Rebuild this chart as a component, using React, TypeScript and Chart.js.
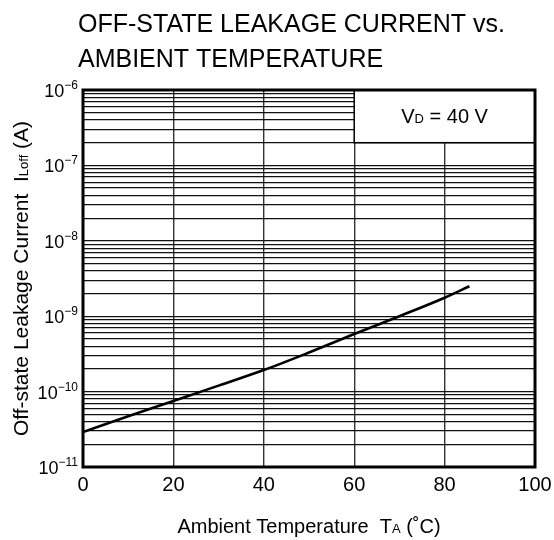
import { useEffect, useRef } from "react";
import { Chart, registerables } from "chart.js";

Chart.register(...registerables);

// ---- data ----
const temperatureC = [0, 10, 20, 30, 40, 50, 60, 70, 80, 85.5];
const leakageA = [2.9e-11, 4.7e-11, 7.5e-11, 1.2e-10, 1.93e-10, 3.3e-10, 5.8e-10, 1.0e-9, 1.76e-9, 2.5e-9];
const xTickValues = [0, 20, 40, 60, 80, 100];
const decadeExponents = [-11, -10, -9, -8, -7, -6];
const minorMultipliers = [1, 2, 3, 4, 5, 6, 7, 8, 9];
const titleLines = ["OFF-STATE LEAKAGE CURRENT vs.", "AMBIENT TEMPERATURE"];
const noteText = { main: "V", sub: "D", rest: " = 40 V" };
const xTitle = { main: "Ambient Temperature  T", sub: "A", rest: " (˚C)" };
const yTitle = { main: "Off-state Leakage Current  I", sub: "Loff", rest: " (A)" };

const FONT = '"Liberation Sans", Arial, Helvetica, sans-serif';

type Part = { text: string; size: number };

function drawRich(ctx: CanvasRenderingContext2D, parts: Part[], x: number, y: number) {
  let total = 0;
  for (const p of parts) {
    ctx.font = `${p.size}px ${FONT}`;
    total += ctx.measureText(p.text).width;
  }
  let cx = x - total / 2;
  ctx.textAlign = "left";
  ctx.textBaseline = "alphabetic";
  for (const p of parts) {
    ctx.font = `${p.size}px ${FONT}`;
    ctx.fillText(p.text, cx, y);
    cx += ctx.measureText(p.text).width;
  }
}

const overlayPlugin = {
  id: "overlay",
  beforeDatasetsDraw(chart: any) {
    const { ctx, chartArea, scales } = chart;
    const x = scales.x;
    const y = scales.y;
    const left = x.getPixelForValue(60);
    const right = chartArea.right;
    const top = chartArea.top;
    const bottom = y.getPixelForValue(2e-7);
    ctx.save();
    ctx.fillStyle = "#fff";
    ctx.fillRect(left, top, right - left, bottom - top);
    ctx.strokeStyle = "#000";
    ctx.lineWidth = 1.5;
    ctx.strokeRect(left, top, right - left, bottom - top);
    ctx.fillStyle = "#000";
    drawRich(
      ctx,
      [
        { text: noteText.main, size: 20 },
        { text: noteText.sub, size: 13 },
        { text: noteText.rest, size: 20 },
      ],
      (left + right) / 2,
      (top + bottom) / 2 + 7
    );
    ctx.restore();
  },
  afterDatasetsDraw(chart: any) {
    const { ctx, chartArea } = chart;
    ctx.save();
    ctx.strokeStyle = "#000";
    ctx.lineWidth = 3;
    ctx.strokeRect(chartArea.left, chartArea.top, chartArea.right - chartArea.left, chartArea.bottom - chartArea.top);
    ctx.restore();
  },
  afterDraw(chart: any) {
    const { ctx, chartArea, scales } = chart;
    ctx.save();
    ctx.fillStyle = "#000";
    ctx.font = `25px ${FONT}`;
    ctx.textAlign = "left";
    ctx.textBaseline = "alphabetic";
    ctx.fillText(titleLines[0], 78, 32);
    ctx.fillText(titleLines[1], 78, 67);

    // y tick labels: 10 with superscript exponent
    const right = chartArea.left - 5;
    for (const e of decadeExponents) {
      const py = scales.y.getPixelForValue(Math.pow(10, e));
      const exp = "\u2212" + String(Math.abs(e));
      ctx.font = `12px ${FONT}`;
      const ew = ctx.measureText(exp).width;
      ctx.textAlign = "left";
      ctx.fillText(exp, right - ew, py - 1);
      ctx.font = `18px ${FONT}`;
      const bw = ctx.measureText("10").width;
      ctx.fillText("10", right - ew - bw, py + 7);
    }

    const cx = (chartArea.left + chartArea.right) / 2;
    drawRich(
      ctx,
      [
        { text: xTitle.main, size: 20 },
        { text: xTitle.sub, size: 13 },
        { text: xTitle.rest, size: 20 },
      ],
      cx,
      533
    );

    const cy = (chartArea.top + chartArea.bottom) / 2;
    ctx.translate(28, cy);
    ctx.rotate(-Math.PI / 2);
    drawRich(
      ctx,
      [
        { text: yTitle.main, size: 21 },
        { text: yTitle.sub, size: 13 },
        { text: yTitle.rest, size: 21 },
      ],
      0,
      0
    );
    ctx.restore();
  },
};

export default function App() {
  const ref = useRef<HTMLCanvasElement | null>(null);

  useEffect(() => {
    if (!ref.current) return;
    const yTickValues: number[] = [];
    for (let i = 0; i < decadeExponents.length - 1; i++) {
      for (const m of minorMultipliers) yTickValues.push(m * Math.pow(10, decadeExponents[i]));
    }
    yTickValues.push(Math.pow(10, decadeExponents[decadeExponents.length - 1]));

    const chart = new Chart(ref.current, {
      type: "line",
      data: {
        datasets: [
          {
            data: temperatureC.map((t, i) => ({ x: t, y: leakageA[i] })),
            borderColor: "#000",
            borderWidth: 2.6,
            pointRadius: 0,
            cubicInterpolationMode: "monotone",
            fill: false,
          },
        ],
      },
      options: {
        animation: false,
        responsive: false,
        devicePixelRatio: 1,
        layout: { padding: { top: 90, right: 19, left: 0, bottom: 0 } },
        plugins: { legend: { display: false }, title: { display: false }, tooltip: { enabled: false } },
        scales: {
          x: {
            type: "linear",
            min: 0,
            max: 100,
            afterBuildTicks: (scale: any) => {
              scale.ticks = xTickValues.map((v) => ({ value: v }));
            },
            afterFit: (scale: any) => {
              scale.height = 73;
              scale.paddingRight = 0;
              scale.paddingLeft = 0;
            },
            ticks: {
              autoSkip: false,
              maxRotation: 0,
              padding: 6,
              color: "#000",
              font: { family: FONT, size: 20 },
              callback: (v: any) => String(v),
            },
            grid: { color: "#333", lineWidth: 1.4, drawTicks: false },
            border: { display: false },
          },
          y: {
            type: "logarithmic",
            min: 1e-11,
            max: 1e-6,
            afterBuildTicks: (scale: any) => {
              scale.ticks = yTickValues.map((v) => ({ value: v }));
            },
            afterFit: (scale: any) => {
              scale.width = 83;
              scale.paddingTop = 0;
              scale.paddingBottom = 0;
            },
            ticks: { display: false },
            grid: { color: "#111", lineWidth: 1.2, drawTicks: false },
            border: { display: false },
          },
        },
      },
      plugins: [overlayPlugin],
    } as any);
    return () => chart.destroy();
  }, []);

  return (
    <div style={{ position: "absolute", left: 0, top: 0, width: 554, height: 540, background: "#fff" }}>
      <canvas ref={ref} width={554} height={540} style={{ width: 554, height: 540, display: "block" }} />
    </div>
  );
}
